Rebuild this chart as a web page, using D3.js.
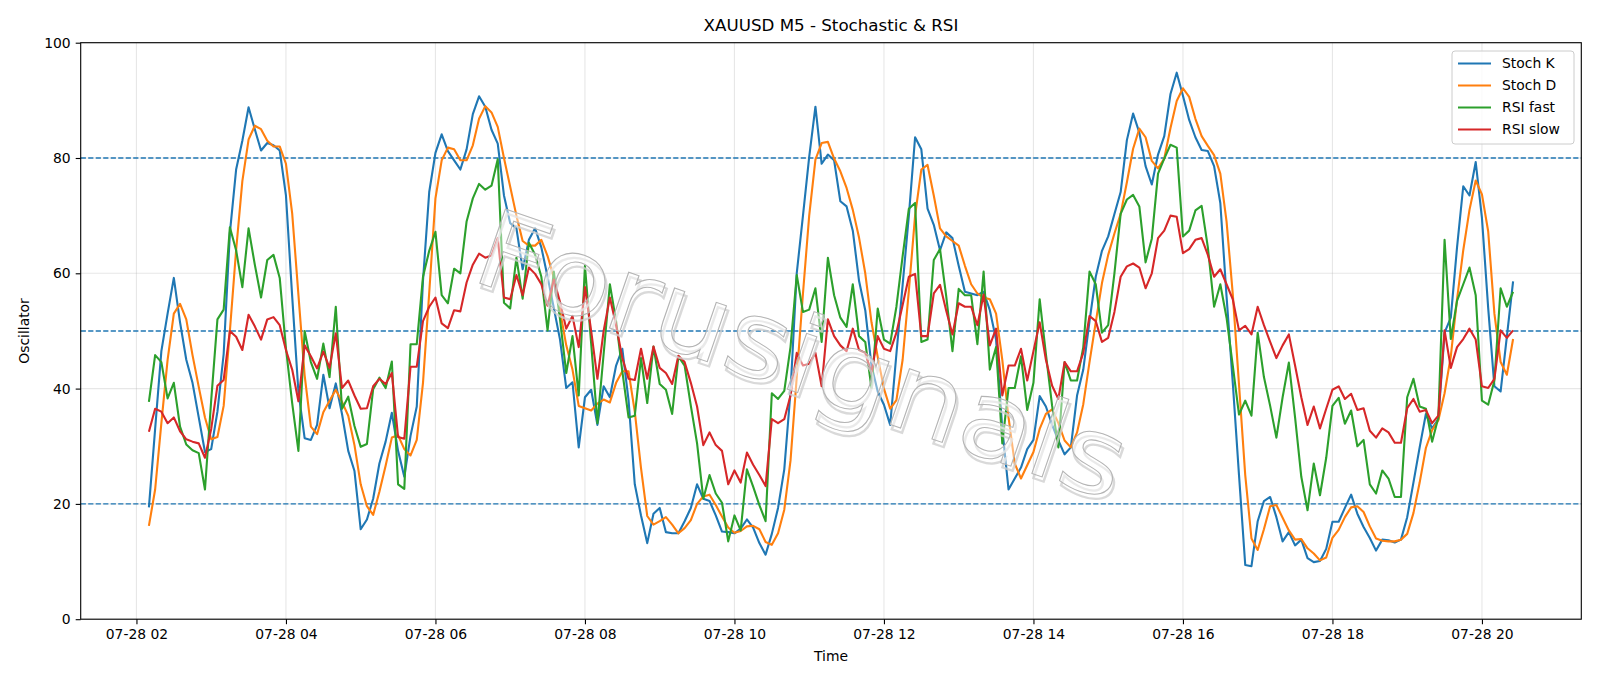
<!DOCTYPE html>
<html>
<head>
<meta charset="utf-8">
<script src="https://cdnjs.cloudflare.com/ajax/libs/d3/7.8.5/d3.min.js"></script>
<style>
    html, body { margin: 0; padding: 0; background: #fff; }
    text { font-family: "DejaVu Sans", sans-serif; }
</style>
</head>
<body>
<div id="chart"></div>
<script>
const width = 1600;
const height = 686;
const plot = { left: 80.7, right: 1581.3, top: 42.7, bottom: 619.2 };

// XAUUSD M5, 07-28 02:10 .. 20:25, one value per 5 minutes
const startTime = new Date(2025, 6, 28, 2, 10);
const stepMinutes = 5;

const stochK = [
    19.4, 33, 46.5, 53, 59.2, 51.5, 45, 41, 35, 29,
    29.5, 36, 46, 67, 78, 83, 88.8, 85, 81.3, 82.6,
    82.2, 81.3, 73.5, 56, 39.5, 31.4, 31.1, 33.7, 42.4, 36.6,
    40.9, 35.6, 29.2, 25.7, 15.6, 17.3, 20.9, 27, 30.8, 35.8,
    29.2, 24.7, 31.8, 36.9, 58.7, 74.1, 80.9, 84.1, 81.2, 79.6,
    78, 81.5, 87.6, 90.7, 88.9, 84.9, 82.5, 73.5, 68.7, 67.8,
    60.7, 65.8, 67.8, 64.5, 59.4, 54, 48.5, 40.1, 41.1, 29.8,
    38.5, 39.8, 33.7, 40.4, 38.5, 44, 46.9, 38, 23.4, 18,
    13.2, 18.3, 19.3, 15.1, 14.9, 14.9, 17, 19.3, 23.4, 20.9,
    20.5, 18, 15.2, 15.1, 14.9, 15.7, 17.3, 15.9, 13.2, 11.2,
    14.8, 19.3, 26, 39.5, 60, 70, 80.2, 88.9, 79, 80.6,
    79.6, 72.5, 71.6, 67.4, 58.7, 53.6, 44, 39.5, 37.2, 33.7,
    46, 58, 70, 83.6, 81.5, 71.2, 68.4, 64, 67.1, 66.1,
    61.3, 56.8, 56.5, 56.2, 56.8, 53.6, 48.5, 33, 22.5, 24.4,
    26.3, 29.5, 31.1, 38.7, 36.9, 33.7, 31, 28.6, 29.8, 38.8,
    43.3, 51.7, 59.4, 63.9, 66.4, 70.3, 74.1, 83.1, 87.7, 84.4,
    78.6, 75.4, 80.6, 83.8, 91.1, 94.8, 90.8, 86.6, 83.6, 81.4,
    81.2, 78.6, 72.2, 56, 41, 25, 9.4, 9.2, 17, 20.5,
    21.2, 17.7, 13.5, 15.1, 12.8, 13.8, 10.6, 9.9, 10.1, 12.2,
    16.9, 16.9, 19.3, 21.6, 18.3, 16, 14.1, 11.9, 13.8, 13.7,
    13.3, 13.8, 17.7, 23.7, 29.8, 35.6, 33.1, 34.7, 49.7, 52.3,
    64.5, 75.1, 73.5, 79.3, 69.6, 54, 40.4, 39.5, 49, 58.6
];

const stochD = [
    16.2, 22.5, 34, 45, 53, 54.7, 52, 45.8, 40.3, 35,
    31.2, 31.6, 37, 50, 64, 76, 83.2, 85.6, 85, 83,
    82, 82, 79, 70.4, 56.3, 42.3, 33.4, 32.1, 35.9, 37.9,
    39.8, 37.7, 35.3, 30.2, 23.4, 19.6, 18.1, 22.1, 26.6, 31.5,
    31.9, 29.5, 28.4, 31.1, 41, 56.6, 73, 79.6, 81.8, 81.5,
    79.6, 79.6, 82.2, 86.8, 89, 87.9, 85.4, 80, 75, 70,
    65.6, 64.8, 64.8, 65.8, 63, 59.3, 53.5, 47.5, 43.3, 37,
    36.6, 36.2, 37.4, 38.1, 37.6, 41, 43, 43, 36, 26.2,
    17.9, 16.4, 17, 17.7, 16.4, 14.9, 15.8, 17.2, 20, 21.3,
    21.6, 19.8, 17.8, 15.9, 15, 15.3, 16.1, 16.2, 15.6, 13.4,
    12.9, 14.9, 19, 27.5, 42, 56.5, 70, 79.7, 82.6, 82.8,
    79.9, 77.7, 74.8, 71, 66.2, 60, 51.5, 45.5, 40, 36.5,
    38, 45, 57, 70, 78, 78.8, 73.5, 67.8, 66.4, 65.6,
    64.8, 61.3, 58.1, 56.5, 55.8, 55.5, 53, 45, 35, 27,
    24.4, 26.7, 29, 33, 35.6, 36.4, 34, 31, 29.8, 32.4,
    37.3, 44.6, 51.5, 58.3, 63.2, 66.9, 70.3, 75.8, 81.6, 85.1,
    83.6, 79.5, 78.2, 79.9, 85.2, 89.9, 92.1, 90.6, 86.8, 83.8,
    82.1, 80.5, 77.3, 69, 56.4, 40.7, 25, 14, 12, 15.6,
    19.6, 19.8, 17.6, 15.4, 13.8, 13.9, 12.3, 11.4, 10.2, 10.7,
    14.1, 15.5, 17.7, 19.4, 19.6, 18.6, 16.1, 14, 13.6, 13.5,
    13.5, 13.8, 14.8, 18.4, 23.7, 29.7, 32.8, 34.5, 39.2, 45.6,
    55.5, 64, 71, 76.1, 73.7, 67.3, 53, 44.6, 42.4, 48.6
];

const rsiFast = [
    37.7, 45.8, 44.6, 38.3, 41, 33.4, 30.3, 29.3, 28.8, 22.5,
    38, 52, 53.7, 68, 64, 57.6, 67.8, 61.5, 55.8, 62.3,
    63.2, 59.2, 47, 37.5, 29.2, 50, 44.6, 41.7, 47.8, 42,
    54.2, 36.5, 38.6, 33.5, 29.9, 30.4, 39.9, 41.9, 40.1, 44.7,
    23.4, 22.6, 47.7, 47.7, 59.4, 63.9, 67.2, 56.2, 54.8, 60.8,
    60, 69, 73, 75.5, 74.5, 75.2, 79.8, 54.9, 53.9, 62.7,
    55.6, 65.3, 63.2, 59.4, 50.1, 60.3, 52, 42.7, 49.1, 38.8,
    61.3, 47.8, 34, 46, 58.1, 51.7, 43, 35, 35.3, 45.3,
    37.5, 47.3, 40.8, 39.8, 35.6, 45.6, 44, 37, 30.5, 20.9,
    25, 21.8, 20.2, 13.5, 18, 15.4, 26, 23, 19.8, 17,
    39.2, 38.2, 39.6, 47.2, 59.7, 53.3, 53.7, 57.4, 48.1, 62.7,
    56.2, 52.3, 50.7, 58.1, 49.1, 48.1, 40.1, 53.9, 48.5, 47.8,
    54.2, 63, 71.2, 72.2, 48.1, 48.5, 62.3, 64.2, 56, 46.5,
    57.3, 56.2, 56.2, 47.7, 60.3, 43.3, 47.2, 30.5, 40.1, 40.1,
    45.6, 36.3, 41, 55.5, 46, 37, 29.8, 44.6, 41.4, 41.4,
    47.2, 60.3, 58.1, 49.7, 51, 60, 70.3, 72.8, 73.6, 71.6,
    61.9, 66, 77.3, 79.9, 82.3, 81.8, 66.4, 67.4, 70.9, 71.7,
    64.5, 54.2, 58.1, 52.3, 44, 35.5, 37.9, 35.3, 49.7, 42,
    37, 31.5, 38.5, 44.5, 35, 24.7, 18.9, 27, 21.5, 28,
    37, 38.4, 33.9, 36.2, 30, 31.1, 23.4, 21.8, 25.8, 24.4,
    21.2, 21.2, 38.5, 41.7, 36.9, 36.5, 30.8, 35, 65.8, 48.6,
    55.2, 58.1, 61, 56.2, 37.9, 37.2, 41.4, 57.4, 54.2, 56.8
];

const rsiSlow = [
    32.5, 36.5, 36, 34, 35, 32.6, 31.2, 30.8, 30.5, 28,
    33, 40.5, 41.5, 50, 49, 46.7, 52.8, 50.8, 48.5, 52,
    52.4, 51, 46.7, 43.3, 37.8, 47.5, 45.6, 43.5, 46.4, 43.6,
    49.6, 40.1, 41.4, 38.8, 36.5, 36.6, 40.4, 41.7, 40.8, 42.7,
    31.6, 31.3, 43.8, 43.8, 51.7, 54.2, 55.8, 51.3, 50.5, 53.6,
    53.4, 58.4, 61.5, 63.4, 62.7, 63.1, 66.1, 55.8, 55.5, 59.7,
    56.2, 61, 59.9, 58.1, 54.4, 58.9, 55, 50.4, 52.6, 47.2,
    57.6, 50, 41.7, 50, 55.8, 51, 45.3, 41.7, 41.5, 46.9,
    41.7, 47.3, 43.6, 42.7, 40.8, 45.7, 44.6, 41, 36.9, 30.2,
    32.4, 30.2, 29.2, 23.4, 25.8, 23.7, 28.9, 26.8, 25, 23.1,
    34.7, 34, 34.7, 38.8, 46.2, 44, 44.3, 46.2, 40.4, 52,
    49.1, 47.5, 46.5, 50.4, 46.7, 46.2, 42.7, 49.1, 46.9, 46.5,
    49.7, 54.5, 59.4, 59.9, 49.1, 49.1, 56.5, 58, 53.5, 49.4,
    54.8, 54.2, 54.2, 51, 56.3, 47.5, 50.4, 38.8, 44, 44,
    46.9, 41.4, 46.5, 51.5, 45, 40.5, 38.2, 44.6, 43, 43,
    46.2, 52.6, 51.7, 48.1, 48.8, 53.3, 59.4, 61.2, 61.7, 61,
    57.4, 60, 66.1, 67.4, 70, 69.8, 63.5, 64.2, 65.8, 66.1,
    63.2, 59.4, 60.7, 58.1, 55.5, 50.1, 50.9, 49.4, 54.2, 51,
    48.1, 45.3, 47.5, 49.4, 44, 38.5, 33.7, 36.9, 33.1, 36.5,
    39.8, 40.4, 38.2, 39.1, 36.3, 36.6, 32.7, 31.5, 33.1, 32.4,
    30.6, 30.6, 36.6, 38.2, 36, 36.3, 34, 35.3, 50.1, 43.6,
    47.2, 48.6, 50.4, 48.5, 40.4, 40.1, 41.7, 50.1, 48.8, 50.1
];

const seriesNames = ["Stoch K", "Stoch D", "RSI fast", "RSI slow"];
const seriesColors = ["#1f77b4", "#ff7f0e", "#2ca02c", "#d62728"];
const levels = [80, 50, 20];
const yTicks = [0, 20, 40, 60, 80, 100];

const times = stochK.map((d, i) => new Date(+startTime + i * stepMinutes * 60000));
const series = [stochK, stochD, rsiFast, rsiSlow].map((values, i) => ({
    name: seriesNames[i],
    color: seriesColors[i],
    values: values.map((v, j) => ({ t: times[j], v: v }))
}));

// 5% padding on the time range, like matplotlib's default margins
const tExtent = d3.extent(times);
const pad = (tExtent[1] - tExtent[0]) * 0.05;

const x = d3.scaleTime()
    .domain([new Date(+tExtent[0] - pad), new Date(+tExtent[1] + pad)])
    .range([plot.left, plot.right]);

const y = d3.scaleLinear()
    .domain([0, 100])
    .range([plot.bottom, plot.top]);

const svg = d3.select("#chart")
    .append("svg")
    .attr("width", width)
    .attr("height", height);

svg.append("rect")
    .attr("width", width)
    .attr("height", height)
    .attr("fill", "#fff");

// grid
const xTicks = x.ticks(d3.timeHour.every(2));

svg.append("g")
    .selectAll("line")
    .data(xTicks)
    .enter()
    .append("line")
    .attr("x1", d => x(d))
    .attr("x2", d => x(d))
    .attr("y1", plot.top)
    .attr("y2", plot.bottom)
    .style("stroke", "#b0b0b0")
    .style("stroke-opacity", 0.3)
    .style("stroke-width", 1.1);

svg.append("g")
    .selectAll("line")
    .data(yTicks)
    .enter()
    .append("line")
    .attr("x1", plot.left)
    .attr("x2", plot.right)
    .attr("y1", d => y(d))
    .attr("y2", d => y(d))
    .style("stroke", "#b0b0b0")
    .style("stroke-opacity", 0.3)
    .style("stroke-width", 1.1);

// overbought / mid / oversold levels
svg.append("g")
    .selectAll("line")
    .data(levels)
    .enter()
    .append("line")
    .attr("x1", plot.left)
    .attr("x2", plot.right)
    .attr("y1", d => y(d))
    .attr("y2", d => y(d))
    .style("stroke", "#1f77b4")
    .style("stroke-width", 1.4)
    .style("stroke-dasharray", "5.2,2.3");

const line = d3.line()
    .x(d => x(d.t))
    .y(d => y(d.v));

svg.append("g")
    .selectAll("path")
    .data(series)
    .enter()
    .append("path")
    .attr("d", d => line(d.values))
    .style("fill", "none")
    .style("stroke", d => d.color)
    .style("stroke-width", 2.1)
    .style("stroke-linejoin", "round");

// watermark, thin outline with a soft shadow
const wm = svg.append("g")
    .attr("transform", "translate(800,362) rotate(19)");

wm.append("text")
    .attr("x", 3)
    .attr("y", 4)
    .attr("text-anchor", "middle")
    .attr("dominant-baseline", "middle")
    .attr("textLength", 680)
    .attr("lengthAdjust", "spacingAndGlyphs")
    .style("font-size", "108px")
    .style("fill", "none")
    .style("stroke", "#d0d0d0")
    .style("stroke-width", 2.2)
    .style("opacity", 0.8)
    .text("Forusignals");

wm.append("text")
    .attr("text-anchor", "middle")
    .attr("dominant-baseline", "middle")
    .attr("textLength", 680)
    .attr("lengthAdjust", "spacingAndGlyphs")
    .style("font-size", "108px")
    .style("fill", "#fff")
    .style("fill-opacity", 0.45)
    .style("stroke", "#b4b4b4")
    .style("stroke-width", 1)
    .text("Forusignals");

// axes
const xAxis = svg.append("g")
    .attr("transform", `translate(0,${plot.bottom})`)
    .call(d3.axisBottom(x)
        .tickValues(xTicks)
        .tickFormat(d3.timeFormat("%m-%d %H"))
        .tickSize(5)
        .tickPadding(5));

const yAxis = svg.append("g")
    .attr("transform", `translate(${plot.left},0)`)
    .call(d3.axisLeft(y)
        .tickValues(yTicks)
        .tickSize(5)
        .tickPadding(5));

[xAxis, yAxis].forEach(ax => {
    ax.select(".domain").remove();
    ax.selectAll("line").style("stroke", "#000").style("stroke-width", 1.1);
    ax.selectAll("text")
        .style("font-family", "DejaVu Sans, sans-serif")
        .style("font-size", "13.9px")
        .style("fill", "#000");
});

svg.append("rect")
    .attr("x", plot.left)
    .attr("y", plot.top)
    .attr("width", plot.right - plot.left)
    .attr("height", plot.bottom - plot.top)
    .style("fill", "none")
    .style("stroke", "#000")
    .style("stroke-width", 1.1);

// titles
svg.append("text")
    .attr("x", (plot.left + plot.right) / 2)
    .attr("y", 31)
    .attr("text-anchor", "middle")
    .style("font-size", "16.7px")
    .text("XAUUSD M5 - Stochastic & RSI");

svg.append("text")
    .attr("x", (plot.left + plot.right) / 2)
    .attr("y", 661)
    .attr("text-anchor", "middle")
    .style("font-size", "13.9px")
    .text("Time");

svg.append("text")
    .attr("transform", `translate(29,${(plot.top + plot.bottom) / 2}) rotate(-90)`)
    .attr("text-anchor", "middle")
    .style("font-size", "13.9px")
    .text("Oscillator");

// legend
const legend = svg.append("g")
    .attr("transform", "translate(1452,51)");

legend.append("rect")
    .attr("width", 122)
    .attr("height", 93)
    .attr("rx", 3)
    .style("fill", "#fff")
    .style("fill-opacity", 0.8)
    .style("stroke", "#cccccc")
    .style("stroke-width", 1);

const items = legend.selectAll(".item")
    .data(series)
    .enter()
    .append("g")
    .attr("class", "item")
    .attr("transform", (d, i) => `translate(0,${12.5 + i * 22})`);

items.append("line")
    .attr("x1", 6)
    .attr("x2", 39)
    .style("stroke", d => d.color)
    .style("stroke-width", 2.1);

items.append("text")
    .attr("x", 50)
    .attr("dy", "0.35em")
    .style("font-size", "13.9px")
    .text(d => d.name);
</script>
</body>
</html>
